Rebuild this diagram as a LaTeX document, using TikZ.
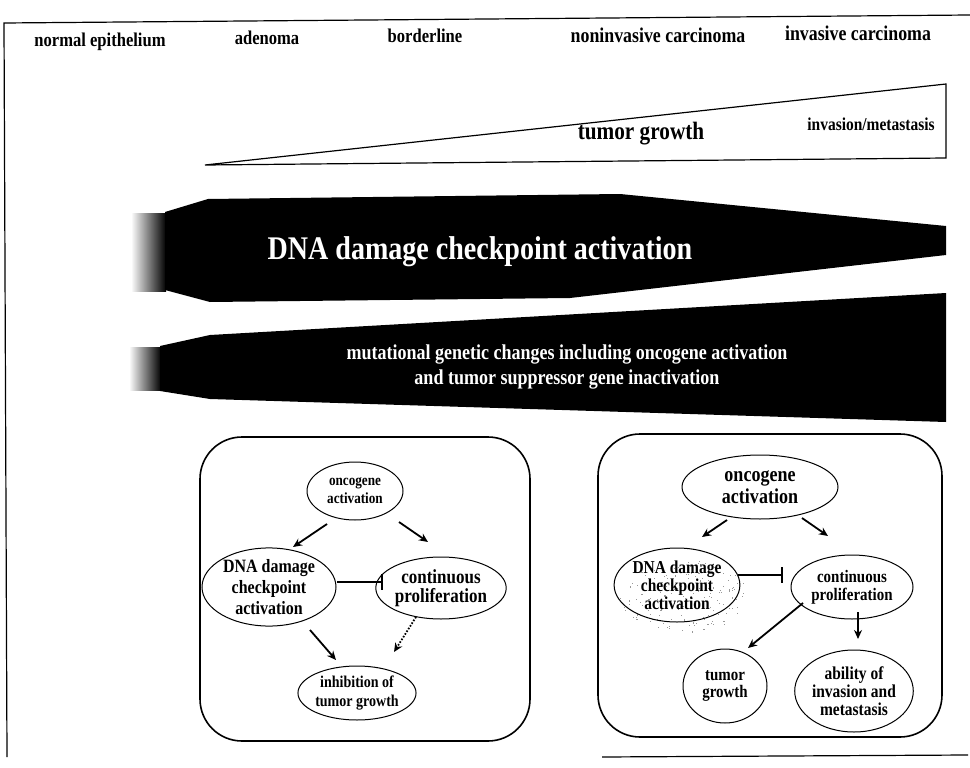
\documentclass[tikz,border=0pt]{standalone}
\usepackage{fontspec}
\setmainfont{Liberation Serif}[FakeStretch=0.85]
\usetikzlibrary{shapes.geometric,arrows.meta}
\newcommand\fsz[2]{\fontsize{#1}{#2}\selectfont}
\begin{document}
\begin{tikzpicture}[x=1pt,y=-1pt,
  hdr/.style={font=\bfseries\fsz{19.5}{21}, inner sep=0},
  hdrb/.style={font=\bfseries\fsz{21}{23}, inner sep=0},
  ell/.style={ellipse, draw, line width=1pt, inner sep=0, align=center},
  arr/.style={line width=1.8pt, -{Stealth[length=9pt,width=8pt]}},
  dotarr/.style={line width=1.8pt, dash pattern=on 1.6pt off 1.6pt, -{Stealth[length=9pt,width=8pt]}},
  inh/.style={line width=1.3pt, -{Bar[width=16pt,line width=1.8pt]}},
  box/.style={line width=1.6pt, rounded corners=42pt},
  band/.style={fill=black, draw=none}
]
\useasboundingbox (0,0) rectangle (970,768);
\fill[white] (0,0) rectangle (970,768);
% frame
\draw[line width=1.2pt] (970,15) -- (4,23) -- (7,757);
\draw[line width=1.2pt] (602,757) -- (968,755);

% stage labels
\node[hdr] (ne) at (100,42) {normal epithelium};
\node[hdr] (ad) at (267,38) {adenoma};
\node[hdr] (bl) at (425,36) {borderline};
\node[hdrb] (nc) at (658,35) {noninvasive carcinoma};
\node[hdrb] (ic) at (858,33) {invasive carcinoma};

% triangle
\draw[line width=1.2pt] (205,165) -- (946,84) -- (946,158) -- cycle;
\node[font=\bfseries\fsz{25}{27}, inner sep=0] (tg) at (641,134) {tumor growth};
\node[font=\bfseries\fsz{18.2}{20}, inner sep=0] (im) at (871,124) {invasion/metastasis};

% band 1
\shade[left color=white, right color=black] (131,213) rectangle (166,291);
\fill[band] (165,212) -- (208,199) -- (620,194) -- (946,226) -- (946,255) -- (570,298) -- (210,302) -- (165,290) -- cycle;
\node[font=\bfseries\fsz{33}{36}, text=white, inner sep=0] (b1) at (480,252) {DNA damage checkpoint activation};

% band 2
\shade[left color=white, right color=black] (129,347) rectangle (161,390);
\fill[band] (160,346) -- (210,335) -- (946,293) -- (946,422) -- (210,399) -- (160,391) -- cycle;
\node[font=\bfseries\fsz{21.2}{25}, text=white, align=center, inner sep=0] (b2) at (567,367) {mutational genetic changes including oncogene activation\\and tumor suppressor gene inactivation};

% left box
\draw[box] (200,437) rectangle (530,741);
\node[ell, minimum width=96pt, minimum height=58pt, font=\bfseries\fsz{15.5}{18}] (lo) at (355,491) {oncogene\\activation};
\node[ell, minimum width=134pt, minimum height=78pt, font=\bfseries\fsz{18.8}{21}] (ld) at (269,587) {DNA damage\\checkpoint\\activation};
\node[ell, minimum width=114pt, minimum height=62pt, font=\bfseries\fsz{20}{19}] (lc) at (441,588) {continuous\\proliferation};
\node[ell, minimum width=118pt, minimum height=54pt, font=\bfseries\fsz{16.5}{19}] (li) at (357,693) {inhibition of\\tumor growth};
\coordinate (l1s) at (327,524); \coordinate (l1e) at (293,547);
\coordinate (l2s) at (399,522); \coordinate (l2e) at (428,542);
\coordinate (l3s) at (337,582); \coordinate (l3e) at (383,582);
\coordinate (l4s) at (310,630); \coordinate (l4e) at (336,660);
\coordinate (l5s) at (416,617); \coordinate (l5e) at (394,652);
\draw[arr] (l1s) -- (l1e);
\draw[arr] (l2s) -- (l2e);
\draw[inh] (l3s) -- (l3e);
\draw[arr] (l4s) -- (l4e);
\draw[dotarr] (l5s) -- (l5e);

% right box
\draw[box] (598,434) rectangle (942,737);
\pgfmathsetseed{7}
\foreach \i in {1,...,170}{
  \pgfmathsetmacro\rr{sqrt(rnd)}
  \pgfmathsetmacro\aa{360*rnd}
  \pgfmathsetmacro\xx{683+66*\rr*cos(\aa)}
  \pgfmathsetmacro\yy{596+36*\rr*sin(\aa)}
  \fill[black!40] (\xx,\yy) rectangle ++(1.1,1.1);
}
\node[ell, minimum width=156pt, minimum height=64pt, font=\bfseries\fsz{21.2}{22}] (ro) at (760,487) {oncogene\\activation};
\node[ell, minimum width=120pt, minimum height=74pt, font=\bfseries\fsz{18.2}{18}] (rd) at (677,585) {DNA damage\\checkpoint\\activation};
\node[ell, minimum width=122pt, minimum height=64pt, font=\bfseries\fsz{17.6}{18}] (rc) at (852,587) {continuous\\proliferation};
\node[ell, minimum width=84pt, minimum height=74pt, font=\bfseries\fsz{17.6}{17}] (rt) at (725,686) {tumor\\growth};
\node[ell, minimum width=118pt, minimum height=82pt, font=\bfseries\fsz{18.2}{18}] (ra) at (854,691) {ability of\\invasion and\\metastasis};
\coordinate (r1s) at (727,520); \coordinate (r1e) at (702,537);
\coordinate (r2s) at (802,518); \coordinate (r2e) at (828,536);
\coordinate (r3s) at (738,575); \coordinate (r3e) at (783,575);
\coordinate (r4s) at (803,603); \coordinate (r4e) at (748,648);
\coordinate (r5s) at (858,612); \coordinate (r5e) at (858,639);
\draw[arr] (r1s) -- (r1e);
\draw[arr] (r2s) -- (r2e);
\draw[inh] (r3s) -- (r3e);
\draw[arr] (r4s) -- (r4e);
\draw[arr] (r5s) -- (r5e);
\end{tikzpicture}
\end{document}
